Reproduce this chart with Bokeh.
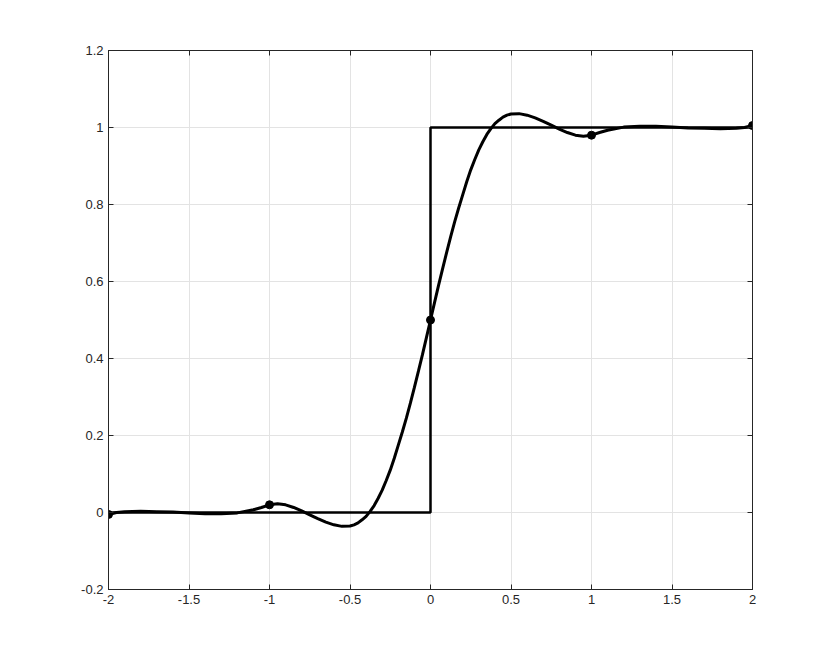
from bokeh.plotting import figure
from bokeh.models import FixedTicker, LinearAxis, CustomJSTickFormatter, Range1d
from bokeh.embed import file_html
from bokeh.resources import INLINE

# smooth approximation curve
curve_x = [-2.0, -1.95, -1.9, -1.8, -1.7, -1.6, -1.5, -1.4, -1.3, -1.2, -1.1, -1.05,
           -1.0, -0.95, -0.9, -0.85, -0.8, -0.75, -0.7, -0.65, -0.6, -0.55, -0.5,
           -0.475, -0.45, -0.425, -0.4, -0.375, -0.35, -0.325, -0.3, -0.275, -0.25,
           -0.225, -0.2, -0.175, -0.15, -0.125, -0.1, -0.075, -0.05, -0.025, 0.0,
           0.025, 0.05, 0.075, 0.1, 0.125, 0.15, 0.175, 0.2, 0.225, 0.25,
           0.275, 0.3, 0.325, 0.35, 0.375, 0.4, 0.425, 0.45, 0.475, 0.5,
           0.55, 0.6, 0.65, 0.7, 0.75, 0.8, 0.85, 0.9, 0.95, 1.0, 1.05, 1.1, 1.2, 1.3,
           1.4, 1.5, 1.6, 1.7, 1.8, 1.9, 1.95, 2.0]
curve_y = [-0.005, 0.000, 0.002, 0.003, 0.002, 0.001, -0.001, -0.003, -0.003, -0.001, 0.007, 0.013,
           0.020, 0.023, 0.020, 0.013, 0.004, -0.006, -0.016, -0.025, -0.032, -0.036, -0.035,
           -0.032, -0.027, -0.019, -0.010, 0.003, 0.018, 0.037, 0.058, 0.083, 0.110,
           0.141, 0.175, 0.209, 0.245, 0.284, 0.325, 0.367, 0.410, 0.455, 0.500,
           0.545, 0.590, 0.633, 0.675, 0.716, 0.755, 0.791, 0.825, 0.859, 0.890,
           0.917, 0.942, 0.963, 0.982, 0.997, 1.010, 1.019, 1.027, 1.032, 1.035,
           1.036, 1.032, 1.025, 1.016, 1.006, 0.996, 0.987, 0.980, 0.977, 0.980, 0.987, 0.993, 1.001, 1.003,
           1.003, 1.001, 0.999, 0.998, 0.997, 0.998, 1.000, 1.005]

# ideal step
step_x = [-2, 0, 0, 2]
step_y = [0, 0, 1, 1]

# sample points
pts_x = [-2, -1, 0, 1, 2]
pts_y = [-0.005, 0.02, 0.5, 0.98, 1.005]

x_ticks = [-2, -1.5, -1, -0.5, 0, 0.5, 1, 1.5, 2]
y_ticks = [-0.2, 0, 0.2, 0.4, 0.6, 0.8, 1, 1.2]

AX = "#262626"
FONT = "Liberation Sans"

p = figure(width=814, height=646, output_backend="svg", toolbar_location=None,
           x_range=Range1d(-2, 2), y_range=Range1d(-0.2, 1.2),
           x_axis_location="below", y_axis_location="left",
           min_border_left=108, min_border_right=62, min_border_top=50, min_border_bottom=57)
p.background_fill_color = "white"
p.border_fill_color = "white"
p.outline_line_color = AX
p.outline_line_width = 1

fmt = "return String(Math.round(tick*10)/10);"

def style(ax, labels=True):
    ax.axis_line_color = AX
    ax.axis_line_width = 1
    ax.major_tick_in = 5
    ax.major_tick_out = 0
    ax.minor_tick_in = 0
    ax.minor_tick_out = 0
    ax.major_tick_line_color = AX
    ax.major_label_text_font = FONT
    ax.major_label_text_font_size = "13px"
    ax.major_label_text_color = AX
    ax.major_label_standoff = 5
    ax.formatter = CustomJSTickFormatter(code=fmt)
    if not labels:
        ax.major_label_text_color = None

p.xaxis.ticker = FixedTicker(ticks=x_ticks)
p.yaxis.ticker = FixedTicker(ticks=y_ticks)
for a in p.xaxis:
    style(a)
for a in p.yaxis:
    style(a)

top = LinearAxis(ticker=FixedTicker(ticks=x_ticks))
style(top, labels=False)
p.add_layout(top, "above")
right = LinearAxis(ticker=FixedTicker(ticks=y_ticks))
style(right, labels=False)
p.add_layout(right, "right")

p.xgrid.ticker = FixedTicker(ticks=x_ticks)
p.ygrid.ticker = FixedTicker(ticks=y_ticks)
p.grid.grid_line_color = "#e3e3e3"
p.grid.grid_line_width = 1

p.line(step_x, step_y, line_color="black", line_width=2.5)
p.line(curve_x, curve_y, line_color="black", line_width=3)
p.scatter(pts_x, pts_y, size=8, color="black")

open("out.html", "w").write(file_html(p, INLINE))
